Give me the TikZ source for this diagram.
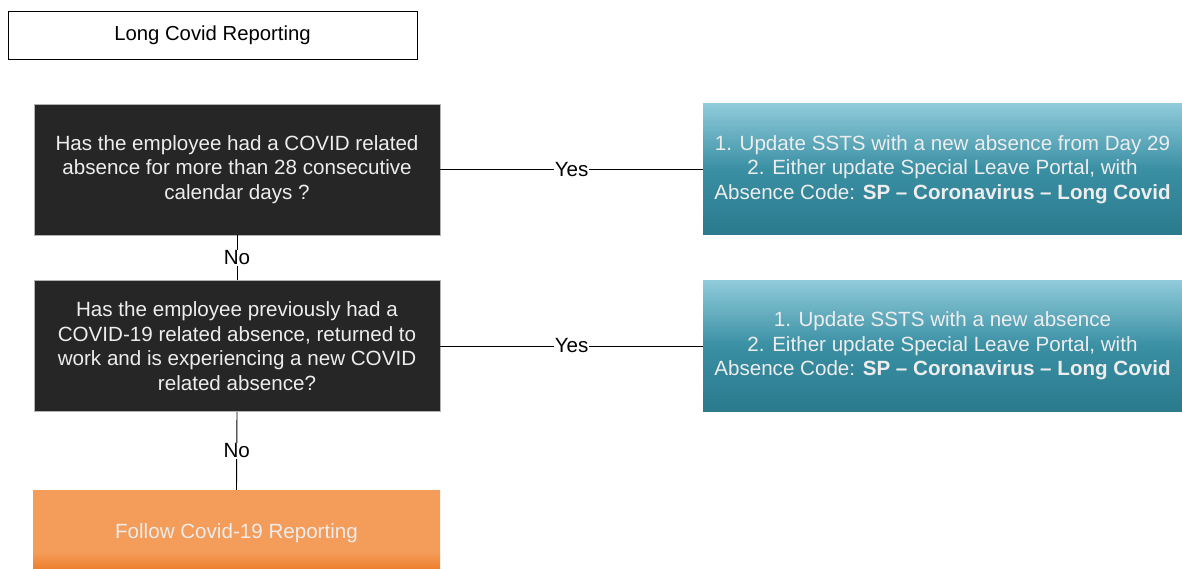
\documentclass[tikz,border=0pt]{standalone}
\usepackage{fontspec}
\setmainfont{Liberation Sans}
\usetikzlibrary{positioning}
\definecolor{darkbox}{HTML}{262626}
\definecolor{tealtop}{HTML}{8FCBDB}
\definecolor{tealmid}{HTML}{3A8FA3}
\definecolor{tealbot}{HTML}{2B7A8D}
\definecolor{orangebox}{HTML}{F49C5A}
\definecolor{orangebot}{HTML}{EE7F2C}
\definecolor{boxtext}{HTML}{EDEDED}
\tikzset{
  question/.style={fill=darkbox, draw=gray!60, line width=0.6pt, text=boxtext,
    minimum width=406pt, minimum height=131pt, align=center, inner sep=0pt,
    font=\fontsize{20.6}{24.5}\selectfont},
  action/.style={top color=tealtop, bottom color=tealbot, middle color=tealmid,
    draw=none, text=boxtext,
    minimum width=479pt, minimum height=131pt, align=center, inner sep=0pt,
    font=\fontsize{20.6}{24.5}\selectfont},
  titlebox/.style={draw=black, line width=0.9pt, minimum width=409pt, minimum height=48pt,
    font=\fontsize{20.3}{22}\selectfont, inner sep=0pt},
  conn/.style={draw=black, line width=0.9pt},
  lbl/.style={fill=white, inner sep=1pt, font=\fontsize{20.6}{22}\selectfont, text=black}
}
\begin{document}
\begin{tikzpicture}[x=1pt,y=-1pt]
\useasboundingbox (0,0) rectangle (1182,569);
\node[titlebox] (title) at (212.5,35) {Long Covid Reporting};
\node[question] (q1) at (237,169.5) {Has the employee had a COVID related\\absence for more than 28 consecutive\\calendar days ?};
\node[question] (q2) at (237,346) {Has the employee previously had a\\COVID-19 related absence, returned to\\work and is experiencing a new COVID\\related absence?};
\node[action] (a1) at (942.5,169.5) {1. Update SSTS with a new absence from Day 29\\2. Either update Special Leave Portal, with\\Absence Code: \textbf{SP – Coronavirus – Long Covid}};
\node[action] (a2) at (942.5,346) {1. Update SSTS with a new absence\\2. Either update Special Leave Portal, with\\Absence Code: \textbf{SP – Coronavirus – Long Covid}};
% orange box
\shade[top color=orangebox, bottom color=orangebox] (33,490) rectangle (440,552);
\shade[top color=orangebox, bottom color=orangebot] (33,552) rectangle (440,569);
\node[minimum width=407pt, minimum height=79pt, inner sep=0pt] (follow) at (236.5,529.5) {};
\node[inner sep=0pt, text=boxtext, font=\fontsize{20.6}{24.5}\selectfont] (followtext)
  at ([yshift=-3.5pt]follow.center) {Follow Covid-19 Reporting};
\draw[conn] (q1.east) -- node[lbl] {Yes} (a1.west);
\draw[conn] (q2.east) -- node[lbl] {Yes} (a2.west);
\draw[conn] (q1.south) -- node[lbl] {No} (q2.north);
\draw[conn] (q2.south) -- node[lbl] {No} (follow.north);
\end{tikzpicture}
\end{document}
